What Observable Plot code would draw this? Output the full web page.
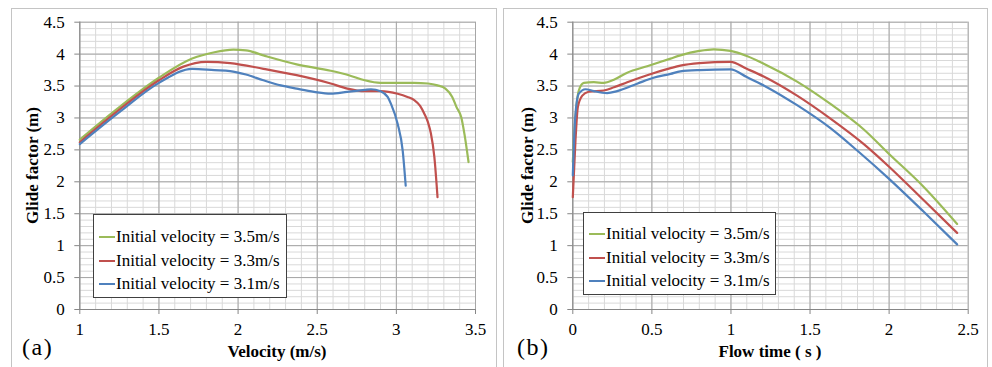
<!DOCTYPE html>
<html>
<head>
<meta charset="utf-8">
<script src="https://cdn.jsdelivr.net/npm/d3@7"></script>
<script src="https://cdn.jsdelivr.net/npm/@observablehq/plot@0.6"></script>
<style>
  html, body { margin: 0; padding: 0; background: #fff; }
  #fig { position: relative; width: 992px; height: 367px; background: #fff; overflow: hidden;
         font-family: 'Liberation Serif', 'Tinos', 'Times New Roman', 'DejaVu Serif', serif; color: #000; }
  .frame { position: absolute; top: 8px; height: 380px; border: 1.5px solid #c4c4c4; box-sizing: border-box; }
  .plotwrap { position: absolute; top: 0; }
  .plotwrap svg { display: block; background: transparent; }
  .plotwrap svg text { font-family: 'Liberation Serif', 'Tinos', 'Times New Roman', 'DejaVu Serif', serif; }
  .legend { position: absolute; background: #fff; border: 1px solid #404040; box-sizing: border-box; }
  .item { position: absolute; left: 0; white-space: nowrap; font-size: 17px; line-height: 17px; }
  .swatch { display: inline-block; width: 16px; height: 2px; vertical-align: middle; margin: 0 1px 0 5px; position: relative; top: -1px; }
  .title { position: absolute; font-weight: bold; font-size: 17px; white-space: nowrap; line-height: 17px; }
  .tag { position: absolute; font-size: 24px; line-height: 24px; letter-spacing: 1.5px; }
</style>
</head>
<body>
<div id="fig">
  <div class="frame" style="left:11px;width:486px;"></div>
  <div class="frame" style="left:503px;width:485px;"></div>
  <div class="plotwrap" id="pa" style="left:0px;"></div>
  <div class="plotwrap" id="pb" style="left:496px;"></div>
</div>
<script>
// ---- series labels and colours ----
const seriesNames = ["Initial velocity = 3.5m/s", "Initial velocity = 3.3m/s", "Initial velocity = 3.1m/s"];
const seriesColors = ["#9bbb59", "#c0504d", "#4f81bd"];

// ---- panel (a): glide factor vs velocity ----
const velA35   = [1, 1.25, 1.5, 1.71, 1.85, 1.97, 2.05, 2.16, 2.37, 2.585, 2.70, 2.80, 2.90, 3.0, 3.11, 3.2, 3.26, 3.31, 3.353, 3.38, 3.41, 3.43, 3.456];
const glideA35 = [2.66, 3.17, 3.63, 3.93, 4.03, 4.07, 4.06, 3.98, 3.84, 3.74, 3.67, 3.59, 3.55, 3.55, 3.55, 3.54, 3.51, 3.46, 3.33, 3.17, 3.01, 2.75, 2.31];

const velA33   = [1, 1.25, 1.5, 1.65, 1.80, 1.95, 2.16, 2.37, 2.585, 2.69, 2.80, 2.90, 3.008, 3.07, 3.113, 3.15, 3.176, 3.20, 3.218, 3.24, 3.26];
const glideA33 = [2.62, 3.13, 3.59, 3.80, 3.88, 3.86, 3.77, 3.67, 3.54, 3.46, 3.42, 3.42, 3.38, 3.33, 3.28, 3.19, 3.07, 2.93, 2.76, 2.39, 1.76];

const velA31   = [1, 1.25, 1.5, 1.71, 1.85, 1.95, 2.05, 2.16, 2.27, 2.37, 2.48, 2.585, 2.69, 2.80, 2.84, 2.90, 2.945, 2.966, 3.008, 3.04, 3.059];
const glideA31 = [2.59, 3.09, 3.55, 3.77, 3.75, 3.735, 3.68, 3.59, 3.51, 3.46, 3.41, 3.38, 3.41, 3.44, 3.45, 3.42, 3.33, 3.22, 2.91, 2.49, 1.94];

// ---- panel (b): glide factor vs flow time ----
const timeB35  = [0, 0.017, 0.038, 0.07, 0.133, 0.196, 0.26, 0.344, 0.47, 0.618, 0.68, 0.80, 0.891, 0.997, 1.10, 1.207, 1.418, 1.629, 1.84, 1.998, 2.219, 2.43];
const glideB35 = [2.31, 3.01, 3.43, 3.55, 3.56, 3.55, 3.60, 3.71, 3.81, 3.93, 3.98, 4.05, 4.075, 4.05, 3.97, 3.85, 3.57, 3.22, 2.82, 2.44, 1.92, 1.34];

const timeB33  = [0, 0.017, 0.032, 0.06, 0.10, 0.196, 0.26, 0.344, 0.47, 0.618, 0.68, 0.80, 0.997, 1.10, 1.207, 1.418, 1.629, 1.84, 1.998, 2.219, 2.43];
const glideB33 = [1.76, 2.65, 3.17, 3.35, 3.41, 3.43, 3.48, 3.56, 3.67, 3.78, 3.82, 3.86, 3.88, 3.77, 3.65, 3.35, 2.99, 2.59, 2.24, 1.71, 1.20];

const timeB31  = [0, 0.015, 0.038, 0.08, 0.133, 0.217, 0.28, 0.41, 0.51, 0.618, 0.68, 0.80, 0.997, 1.10, 1.207, 1.418, 1.629, 1.798, 1.998, 2.219, 2.43];
const glideB31 = [2.1, 3.0, 3.38, 3.45, 3.42, 3.39, 3.42, 3.54, 3.63, 3.69, 3.73, 3.75, 3.76, 3.64, 3.51, 3.20, 2.84, 2.49, 2.05, 1.53, 1.02];

// ---- tick labels ----
const xTicksA = [1, 1.5, 2, 2.5, 3, 3.5];
const xTicksB = [0, 0.5, 1, 1.5, 2, 2.5];
const yTicks  = [0, 0.5, 1, 1.5, 2, 2.5, 3, 3.5, 4, 4.5];

// ---- text ----
const yTitle = "Glide factor (m)";
const xTitleA = "Velocity (m/s)";
const xTitleB = "Flow time ( s )";
const tagA = "(a)", tagB = "(b)";

const serifStack = "'Liberation Serif', 'Tinos', 'Times New Roman', 'DejaVu Serif', serif";

function rows(xs, ys, name) { return xs.map((x, i) => ({x, y: ys[i], series: name})); }

const dataA = [
  ...rows(velA35, glideA35, seriesNames[0]),
  ...rows(velA33, glideA33, seriesNames[1]),
  ...rows(velA31, glideA31, seriesNames[2])
];
const dataB = [
  ...rows(timeB35, glideB35, seriesNames[0]),
  ...rows(timeB33, glideB33, seriesNames[1]),
  ...rows(timeB31, glideB31, seriesNames[2])
];

function makePanel(data, xTicks, marginLeft, marginRight) {
  const x0 = xTicks[0], x1 = xTicks[xTicks.length - 1];
  const xMinor = d3.range(0, Math.round((x1 - x0) / 0.1) + 1).map(i => x0 + i * 0.1);
  const yMinor = d3.range(0, 46).map(i => i * 0.1);
  return Plot.plot({
    width: 496,
    height: 367,
    marginLeft,
    marginRight,
    marginTop: 21.7,
    marginBottom: 58,
    style: {background: "transparent", fontFamily: serifStack, color: "#000", overflow: "visible"},
    x: {domain: [x0, x1]},
    y: {domain: [0, 4.5]},
    color: {domain: seriesNames, range: seriesColors},
    marks: [
      Plot.ruleX(xMinor, {stroke: "#d9d9d9", strokeWidth: 1}),
      Plot.ruleY(yMinor, {stroke: "#d9d9d9", strokeWidth: 1}),
      Plot.ruleX(xTicks, {stroke: "#a6a6a6", strokeWidth: 1}),
      Plot.ruleY(yTicks, {stroke: "#a6a6a6", strokeWidth: 1}),
      Plot.ruleX([x0], {stroke: "#868686", strokeWidth: 1}),
      Plot.ruleY([0], {stroke: "#868686", strokeWidth: 1}),
      Plot.axisX({ticks: xTicks, tickSize: 5, tickPadding: 8, tickFormat: d => String(d), label: null,
                  fontSize: 17, fontFamily: serifStack, stroke: "#868686", fill: "#000"}),
      Plot.axisY({ticks: yTicks, tickSize: 5, tickPadding: 10, tickFormat: d => String(d), label: null,
                  fontSize: 17, fontFamily: serifStack, stroke: "#868686", fill: "#000"}),
      Plot.line(data, {x: "x", y: "y", z: "series", stroke: "series", strokeWidth: 2.2, curve: "monotone-x"})
    ]
  });
}

document.getElementById("pa").appendChild(makePanel(dataA, xTicksA, 79.3, 21));
document.getElementById("pb").appendChild(makePanel(dataB, xTicksB, 76.3, 24.3));

const fig = document.getElementById("fig");
function addDiv(cls, style, text) {
  const d = document.createElement("div");
  d.className = cls;
  d.setAttribute("style", style);
  if (text !== undefined) d.textContent = text;
  fig.appendChild(d);
  return d;
}

function addLegend(left, top, width, height, rowTops) {
  const lg = addDiv("legend", `left:${left}px;top:${top}px;width:${width}px;height:${height}px;`);
  seriesNames.forEach((name, i) => {
    const it = document.createElement("div");
    it.className = "item";
    it.style.top = rowTops[i] + "px";
    const sw = document.createElement("span");
    sw.className = "swatch";
    sw.style.background = seriesColors[i];
    it.appendChild(sw);
    it.appendChild(document.createTextNode(name));
    lg.appendChild(it);
  });
}
addLegend(93, 214, 194, 84, [13, 37, 60]);
addLegend(583, 212, 193, 83, [12, 36, 59]);

// axis titles
const ta = addDiv("title", "left:0;top:0;", xTitleA);
ta.style.left = (277 - ta.offsetWidth / 2) + "px"; ta.style.top = "343px";
const tb = addDiv("title", "left:0;top:0;", xTitleB);
tb.style.left = (770 - tb.offsetWidth / 2) + "px"; tb.style.top = "343px";

function addYTitle(cx) {
  const d = addDiv("title", "left:0;top:0;", yTitle);
  const w = d.offsetWidth, h = d.offsetHeight;
  d.style.left = (cx - w / 2) + "px";
  d.style.top = (165 - h / 2) + "px";
  d.style.transform = "rotate(-90deg)";
}
addYTitle(32.5);
addYTitle(527);

addDiv("tag", "left:22px;top:335px;", tagA);
addDiv("tag", "left:517px;top:335px;", tagB);
</script>
</body>
</html>
